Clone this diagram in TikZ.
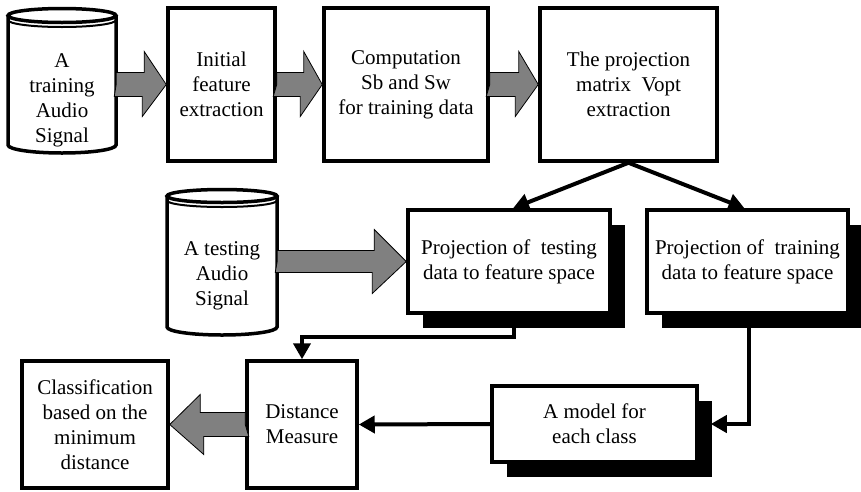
\documentclass[tikz,border=0pt]{standalone}
\usepackage{fontspec}
\setmainfont{Liberation Serif}
\usetikzlibrary{arrows.meta,shadows}

\begin{document}
\begin{tikzpicture}[x=1pt,y=-1pt,
	every node/.style = {font=\fontsize{21}{25}\selectfont, align=center, inner sep=2pt},
	box/.style={rectangle, draw, line width=3.5pt, fill=white},
	shadowbox/.style={box, drop shadow={shadow xshift=15pt, shadow yshift=-15pt, fill=black, opacity=1}},
	conn/.style={line width=4pt, -{Triangle[length=16pt,width=17pt]}},
	blockarrow/.style={draw, line width=0.8pt, fill=gray},
	cyl/.style={line width=3.5pt, fill=white}
	]
  \useasboundingbox (0,0) rectangle (861,491);
  % the two audio signals
  \filldraw[cyl] (8,15.5) -- (8,145) arc[start angle=180, end angle=0, x radius=54, y radius=8] -- (116,15.5);
  \filldraw[cyl] (62,15.5) ellipse[x radius=54, y radius=7];
  \draw[line width=2pt] (8,20) arc[start angle=180, end angle=0, x radius=54, y radius=7];
  \filldraw[cyl] (167,196) -- (167,327) arc[start angle=180, end angle=0, x radius=55, y radius=8] -- (277,196);
  \filldraw[cyl] (222,196) ellipse[x radius=55, y radius=6.5];
  \draw[line width=2pt] (167,200.5) arc[start angle=180, end angle=0, x radius=55, y radius=6.5];
  \node[minimum width=108pt] (train) at (62,100) {A\\training\\Audio\\Signal};
  \node[minimum width=110pt] (test) at (222,276) {A testing\\Audio\\Signal};
  % boxes
  \node[box, minimum width=107pt, minimum height=153pt] (init) at (221.5,84.5) {Initial\\feature\\extraction};
  \node[box, minimum width=164pt, minimum height=153pt] (comp) at (406,84.5) {Computation\\Sb and Sw\\for training data};
  \node[box, minimum width=177pt, minimum height=153pt] (vopt) at (628.5,84.5) {The projection\\matrix~ Vopt\\extraction};
  \node[shadowbox, minimum width=202pt, minimum height=103pt] (ptest) at (509,261.5) {Projection of~ testing\\data to feature space};
  \node[shadowbox, minimum width=201pt, minimum height=103pt] (ptrain) at (747.5,261.5) {Projection of~ training\\data to feature space};
  \node[shadowbox, minimum width=205pt, minimum height=76pt] (model) at (594.5,424) {A model for\\each class};
  \node[box, minimum width=110pt, minimum height=127pt] (dist) at (302,424.5) {Distance\\Measure};
  \node[box, minimum width=146pt, minimum height=127pt] (classif) at (95,424.5) {Classification\\based on the\\minimum\\distance};
  % block arrows
  \draw[blockarrow] (train.east |- init.west) -- ++(0,-12) -- ++(28,0) -- ++(0,-21) -- (init.west) -- ++(-24,32) -- ++(0,-20) -- ++(-28,0) -- cycle;
  \draw[blockarrow] (init.east) -- ++(0,-12) -- ++(27,0) -- ++(0,-21) -- (comp.west) -- ++(-22,32) -- ++(0,-20) -- ++(-27,0) -- cycle;
  \draw[blockarrow] (comp.east) -- ++(0,-12) -- ++(29,0) -- ++(0,-21) -- (vopt.west) -- ++(-23,32) -- ++(0,-20) -- ++(-29,0) -- cycle;
  \draw[blockarrow] (test.east |- ptest.west) -- ++(0,-11) -- ++(97,0) -- ++(0,-21) -- (ptest.west) -- ++(-34,32) -- ++(0,-21) -- ++(-97,0) -- cycle;
  \draw[blockarrow] (dist.west) -- ++(0,-12) -- ++(-45,0) -- ++(0,-18) -- (classif.east) -- ++(34,30) -- ++(0,-18) -- ++(45,0) -- cycle;
  % connectors
  \draw[conn] (vopt.south) -- ([xshift=4pt]ptest.north);
  \draw[conn] (vopt.south) -- ([xshift=-3pt]ptrain.north);
  \draw[conn] ([xshift=5pt]ptest.south) -- ++(0,22) -| (dist.north);
  \draw[conn] ([xshift=1.5pt]ptrain.south) |- ([xshift=12pt]model.east);
  \draw[conn] (model.west) -- (dist.east);
\end{tikzpicture}
\end{document}
